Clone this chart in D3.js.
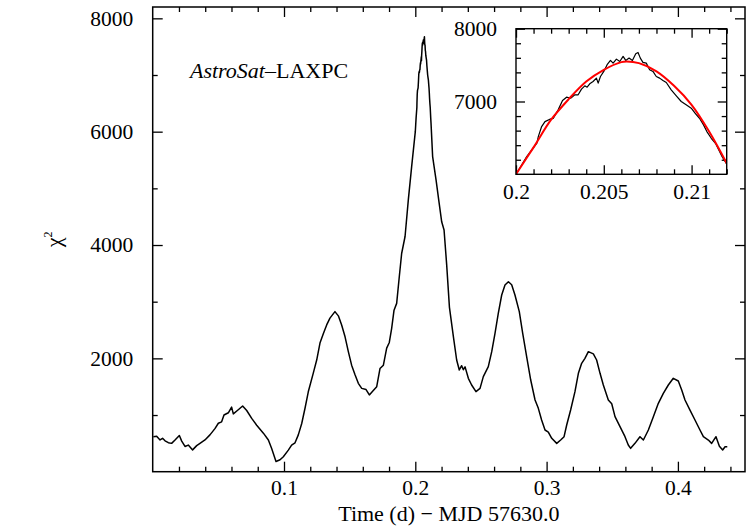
<!DOCTYPE html>
<html>
<head>
<meta charset="utf-8">
<script src="https://cdn.jsdelivr.net/npm/d3@7"></script>
<style>
html,body{margin:0;padding:0;background:#fff;}
svg{display:block;}
text{font-family:"Liberation Serif","Times New Roman",serif;fill:#000;}
</style>
</head>
<body>
<svg id="c" width="747" height="527"></svg>
<script>
// ---- data ----
const timeD = [
0.0005,0.0030,0.0056,0.0075,0.0094,0.0119,0.0144,0.0170,0.0203,0.0221,0.0246,0.0271,0.0304,0.0335,0.0360,0.0398,
0.0436,0.0474,0.0500,0.0525,0.0543,0.0576,0.0601,0.0614,0.0645,0.0685,0.0716,0.0754,0.0792,0.0843,0.0881,0.0906,
0.0939,0.0970,0.0995,0.1033,0.1058,0.1084,0.1109,0.1135,0.1160,0.1185,0.1223,0.1249,0.1274,0.1300,0.1325,0.1350,
0.1388,0.1414,0.1439,0.1465,0.1490,0.1515,0.1541,0.1566,0.1592,0.1625,0.1650,0.1675,0.1706,0.1731,0.1757,0.1782,
0.1802,0.1820,0.1838,0.1858,0.1878,0.1896,0.1922,0.1947,0.1972,
0.2000,0.20032,0.20061,0.20119,0.20127,0.20146,0.20165,0.20193,0.20212,0.20240,0.20265,0.20288,0.20311,0.20335,
0.20354,0.20373,0.20392,0.20405,0.20420,0.20439,0.20458,0.20468,0.20481,0.20500,0.20519,0.20538,0.20553,0.20572,
0.20591,0.20610,0.20625,0.20644,0.20663,0.20682,0.20695,0.20708,0.20723,0.20742,0.20761,0.20780,0.20799,0.20818,
0.20837,0.20856,0.20884,0.20913,0.20941,0.20969,0.20998,0.21023,0.21045,0.21068,0.21087,0.21112,0.21136,0.21155,
0.21174,0.21197,
0.2132,0.2158,0.2178,0.2201,0.2219,0.2239,0.2260,0.2290,0.2315,0.2335,0.2353,0.2366,0.2379,0.2404,0.2429,0.2462,
0.2493,0.2518,0.2556,0.2582,0.2607,0.2632,0.2658,0.2683,0.2709,0.2734,0.2759,0.2792,0.2818,0.2848,0.2879,0.2912,
0.2937,0.2962,0.2988,0.3013,0.3039,0.3077,0.3107,0.3133,0.3153,0.3183,0.3216,0.3242,0.3267,0.3292,0.3318,0.3356,
0.3381,0.3407,0.3432,0.3470,0.3496,0.3521,0.3559,0.3597,0.3622,0.3640,0.3673,0.3711,0.3737,0.3775,0.3813,0.3851,
0.3889,0.3927,0.3965,0.4003,0.4029,0.4054,0.4092,0.4130,0.4168,0.4194,0.4232,0.4257,0.4290,0.4316,0.4341,0.4359,
0.4376
];
const chi2 = [
618,624,560,590,545,512,500,560,640,540,445,470,385,460,500,560,
650,760,855,880,1000,1040,1140,1020,1080,1160,1080,940,820,680,560,410,
180,210,265,380,470,510,650,850,1120,1410,1740,1970,2270,2440,2590,2710,
2825,2750,2590,2380,2120,1880,1710,1560,1470,1450,1355,1420,1500,1820,1880,2180,
2280,2530,2850,2970,3440,3850,4150,4800,5380,
6000,6128,6243,6427,6518,6656,6724,6757,6766,6885,7013,7059,7045,7092,
7092,7170,7215,7197,7243,7275,7321,7252,7344,7413,7505,7564,7527,7582,
7550,7619,7564,7596,7564,7656,7674,7596,7537,7527,7436,7413,7344,7321,
7289,7261,7160,7078,7000,6954,6908,6830,6770,6679,6587,6495,6426,6334,
6243,6151,
5560,5150,4800,4410,4265,3650,2900,2382,1971,1795,1870,1800,1850,1648,1530,1412,
1470,1677,1853,2118,2442,2795,3118,3295,3353,3300,3118,2824,2442,2030,1618,1265,
1118,912,736,700,589,500,560,618,824,1088,1412,1736,1912,2000,2118,2080,
1971,1736,1530,1265,1200,971,794,618,471,412,500,618,560,736,971,1206,
1383,1530,1648,1600,1441,1265,1088,912,736,618,559,500,618,450,383,441,
441
];
// fit curve shown in the inset (red)
const fitT = [0.2000,0.2010,0.2020,0.2030,0.2040,0.2050,0.2060,0.2063,0.2070,0.2080,0.2090,0.2100,0.2110,0.2120];
const fitV = [6000,6370,6750,7032,7275,7436,7541,7550,7527,7413,7215,6954,6587,6151];

const xMajor = [0.1,0.2,0.3,0.4];
const xMinor = [0.02,0.04,0.06,0.08,0.12,0.14,0.16,0.18,0.22,0.24,0.26,0.28,0.32,0.34,0.36,0.38,0.42,0.44];
const yMajor = [2000,4000,6000,8000];
const yMinor = [1000,3000,5000,7000];
const inXMajor = [0.2,0.205,0.21];
const inXMinor = [0.201,0.202,0.203,0.204,0.206,0.207,0.208,0.209,0.211,0.212];
const inYMajor = [7000,8000];
const inYMinor = [6200,6400,6600,6800,7200,7400,7600,7800];

const xLabel = "Time (d) \u2212 MJD 57630.0";

// ---- layout ----
const svg = d3.select("#c");
const M = {l:152.7, r:745, t:7, b:471.7};
const I = {l:516, r:726.7, t:28.7, b:174.3};
const FS = 21.5;
const FF = '"Liberation Serif","Times New Roman",serif';

const x = d3.scaleLinear().domain([0,0.4511]).range([M.l,M.r]);
const y = d3.scaleLinear().domain([0,8200]).range([M.b,M.t]);
const xi = d3.scaleLinear().domain([0.2,0.212]).range([I.l,I.r]);
const yi = d3.scaleLinear().domain([6000,8000]).range([I.b,I.t]);

const pts = timeD.map((t,i)=>[t,chi2[i]]);

function tickAxes(g, xs, ys, box, xMaj, xMin, yMaj, yMin, majLen, minLen){
  const mk = (gen)=>{ const a=g.append("g"); a.call(gen); a.attr("font-family",FF); a.select(".domain").remove(); a.selectAll("line").attr("stroke","#000").attr("stroke-width",1.3); return a; };
  const bMaj = mk(d3.axisBottom(xs).tickValues(xMaj).tickSize(-majLen).tickFormat(d3.format("")));
  bMaj.attr("transform",`translate(0,${box.b})`);
  mk(d3.axisBottom(xs).tickValues(xMin).tickSize(-minLen).tickFormat("")).attr("transform",`translate(0,${box.b})`);
  mk(d3.axisTop(xs).tickValues(xMaj).tickSize(-majLen).tickFormat("")).attr("transform",`translate(0,${box.t})`);
  mk(d3.axisTop(xs).tickValues(xMin).tickSize(-minLen).tickFormat("")).attr("transform",`translate(0,${box.t})`);
  const lMaj = mk(d3.axisLeft(ys).tickValues(yMaj).tickSize(-majLen).tickFormat(d3.format("")));
  lMaj.attr("transform",`translate(${box.l},0)`);
  mk(d3.axisLeft(ys).tickValues(yMin).tickSize(-minLen).tickFormat("")).attr("transform",`translate(${box.l},0)`);
  mk(d3.axisRight(ys).tickValues(yMaj).tickSize(-majLen).tickFormat("")).attr("transform",`translate(${box.r},0)`);
  mk(d3.axisRight(ys).tickValues(yMin).tickSize(-minLen).tickFormat("")).attr("transform",`translate(${box.r},0)`);
  return {bMaj,lMaj};
}

// main frame
const main = svg.append("g");
const A = tickAxes(main, x, y, M, xMajor, xMinor, yMajor, yMinor, 10, 5);
A.bMaj.selectAll("text").attr("y",23.5).attr("dy",null).style("font-size",FS+"px").style("font-family",FF);
A.lMaj.selectAll("text").attr("x",-19.5).attr("dy","0.32em").style("font-size",FS+"px").style("font-family",FF);

svg.append("clipPath").attr("id","mclip").append("rect")
  .attr("x",M.l).attr("y",M.t).attr("width",M.r-M.l).attr("height",M.b-M.t);

const line = d3.line().x(d=>x(d[0])).y(d=>y(d[1]));
svg.append("path").datum(pts).attr("clip-path","url(#mclip)")
  .attr("d",line).attr("fill","none").attr("stroke","#000").attr("stroke-width",1.5)
  .attr("stroke-linejoin","round");

svg.append("rect").attr("x",M.l).attr("y",M.t).attr("width",M.r-M.l).attr("height",M.b-M.t)
  .attr("fill","none").attr("stroke","#000").attr("stroke-width",1.5);

// axis titles
svg.append("text").attr("x",(M.l+M.r)/2).attr("y",521).attr("text-anchor","middle")
  .style("font-size","22px").text(xLabel);
const yl = svg.append("text").attr("transform",`translate(61,${(M.t+M.b)/2}) rotate(-90)`)
  .attr("text-anchor","middle").style("font-size","22px");
yl.append("tspan").text("\u03C7");
yl.append("tspan").attr("dy",-9).style("font-size","12px").text("2");

// annotation
const ann = svg.append("text").attr("x",190).attr("y",78).style("font-size","22px");
ann.append("tspan").style("font-style","italic").text("AstroSat");
ann.append("tspan").text("\u2013LAXPC");

// inset
svg.append("rect").attr("x",I.l).attr("y",I.t).attr("width",I.r-I.l).attr("height",I.b-I.t).attr("fill","#fff");
svg.append("clipPath").attr("id","iclip").append("rect")
  .attr("x",I.l).attr("y",I.t).attr("width",I.r-I.l).attr("height",I.b-I.t);
const ins = svg.append("g");
const B = tickAxes(ins, xi, yi, I, inXMajor, inXMinor, inYMajor, inYMinor, 9, 5);
B.bMaj.selectAll("text").attr("y",25).attr("dy",null).style("font-size",FS+"px").style("font-family",FF);
B.lMaj.selectAll("text").attr("x",-19).attr("dy","0.32em").style("font-size",FS+"px").style("font-family",FF);

const iline = d3.line().x(d=>xi(d[0])).y(d=>yi(d[1]));
svg.append("path").datum(pts.filter(d=>d[0]>=0.195 && d[0]<=0.216)).attr("clip-path","url(#iclip)")
  .attr("d",iline).attr("fill","none").attr("stroke","#000").attr("stroke-width",1.2)
  .attr("stroke-linejoin","round");
const fline = d3.line().x((d,i)=>xi(fitT[i])).y(d=>yi(d)).curve(d3.curveCatmullRom);
svg.append("path").datum(fitV).attr("clip-path","url(#iclip)")
  .attr("d",fline).attr("fill","none").attr("stroke","#ff0000").attr("stroke-width",2);

svg.append("rect").attr("x",I.l).attr("y",I.t).attr("width",I.r-I.l).attr("height",I.b-I.t)
  .attr("fill","none").attr("stroke","#000").attr("stroke-width",1.4);
</script>
</body>
</html>
